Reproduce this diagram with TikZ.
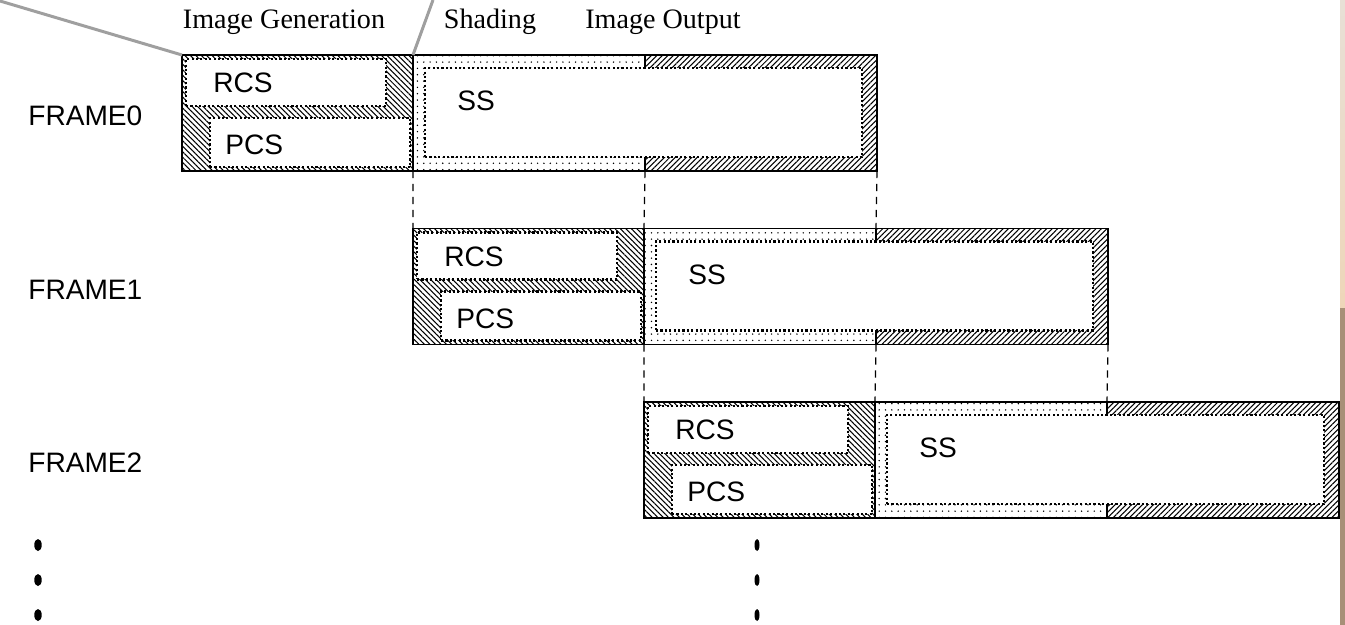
\documentclass[tikz,border=0pt]{standalone}
\usepackage{fontspec}
\setmainfont{Liberation Serif}
\setsansfont{Liberation Sans}
\usepackage{tikz}
\usetikzlibrary{
    patterns.meta,
    shapes.geometric,
    positioning
}
\usepackage{xcolor}
\definecolor{striptop}{HTML}{E8E0D6}
\definecolor{stripbeige}{HTML}{EED6B9}
\definecolor{stripbrown}{HTML}{A89078}
\tikzstyle{stagearea} = [
    rectangle,
    draw=black,
    line width=0.8pt,
    inner sep=0pt,
    outer sep=0pt
]
\tikzstyle{genarea} = [
    stagearea,
    pattern={Lines[angle=-45,distance=2.2pt,line width=0.6pt]}
]
\tikzstyle{shadearea} = [
    stagearea,
    pattern={Dots[distance=3.6pt,radius=0.45pt]}
]
\tikzstyle{outarea} = [
    stagearea,
    pattern={Lines[angle=45,distance=2.2pt,line width=0.6pt]}
]
\tikzstyle{unitbox} = [
    rectangle,
    fill=white,
    draw=black,
    line width=1.5pt,
    dash pattern=on 1.2pt off 1.3pt,
    inner sep=0pt,
    outer sep=0pt
]
\tikzstyle{unitname} = [
    anchor=west,
    inner sep=0pt,
    font=\sffamily\fontsize{16}{19}\selectfont
]
\tikzstyle{phasename} = [
    inner sep=0pt,
    font=\rmfamily\fontsize{16}{19}\selectfont
]
\tikzstyle{phaseline} = [
    line width=0.7pt,
    dash pattern=on 4pt off 3.4pt
]
\tikzstyle{leader} = [
    draw=gray!75,
    line width=1.7pt
]
\tikzstyle{vdot} = [
    ellipse,
    fill=black,
    inner sep=0pt,
    minimum width=0.15cm,
    minimum height=0.24cm
]

\begin{document}
\begin{tikzpicture}[x=0.02cm, y=-0.02cm]
        \useasboundingbox (0,0) rectangle (1345,625);

        % Frames
        \foreach \i in {0,1,2} {
            \begin{scope}[shift={(231*\i,173.5*\i)}]
                \node[genarea, minimum width=4.62cm, minimum height=2.32cm] (gen\i) at (297.5,113) {};
                \node[shadearea, minimum width=4.64cm, minimum height=2.32cm] (shade\i) at (529,113) {};
                \node[outarea, minimum width=4.64cm, minimum height=2.32cm] (out\i) at (761,113) {};
                \node[unitbox, minimum width=4cm, minimum height=0.94cm] (rcs\i) at (286,82.5) {};
                \node[unitbox, minimum width=4cm, minimum height=0.98cm] (pcs\i) at (310,142.5) {};
                \node[unitbox, minimum width=8.74cm, minimum height=1.78cm] (ss\i) at (643.5,112.5) {};
                \node[unitname] (rcsname\i) at (213,83) {RCS};
                \node[unitname] (pcsname\i) at (225,145) {PCS};
                \node[unitname] (ssname\i) at (457,101) {SS};
            \end{scope}
            \node[unitname] (framename\i) at (28,{116+173.5*\i}) {FRAME\i};
        }

        % Phase boundaries
        \foreach \i/\j in {0/1,1/2} {
            \draw[phaseline] (gen\i.south east) -- (gen\j.north west);
            \draw[phaseline] (shade\i.south east) -- (shade\j.north west);
            \draw[phaseline] (out\i.south east) -- (out\j.north west);
        }

        % Phase names
        \node[phasename] (phasegen) at (284,22) {Image Generation};
        \node[phasename] (phaseshade) at (490,22) {Shading};
        \node[phasename] (phaseout) at (663,22) {Image Output};

        % Leader lines
        \coordinate (leadA) at (0,1);
        \coordinate (leadB) at (433,0);
        \draw[leader] (leadA) -- (gen0.north west);
        \draw[leader] (leadB) -- (gen0.north east);

        % Continuation dots
        \foreach \k/\y in {1/545,2/580,3/615} {
            \node[vdot] (dotl\k) at (38,\y) {};
            \node[vdot, minimum width=0.1cm] (dotr\k) at (757,\y) {};
        }

        % Edge strip
        \shade[top color=striptop, bottom color=stripbeige] (1340,0) rectangle (1345,308);
        \fill[stripbrown] (1340,308) rectangle (1345,625);
    \end{tikzpicture}
\end{document}
